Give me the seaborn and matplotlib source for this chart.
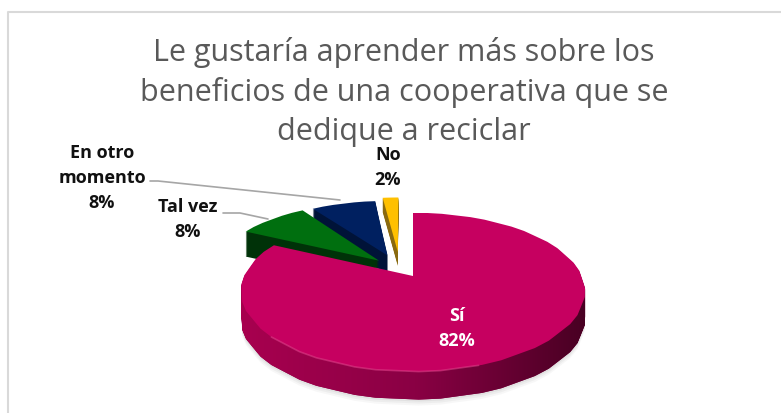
"""
Encuesta: exploded 3D-looking pie, built from matplotlib pie wedges under seaborn theme.
"""

import matplotlib
matplotlib.use('Agg')
import matplotlib.pyplot as plt
import seaborn as sns
import numpy as np
from matplotlib.patches import Polygon, PathPatch
from matplotlib.path import Path

categories = ['Sí', 'Tal vez', 'En otro\nmomento', 'No']
shares = [82, 8, 8, 2]

sns.set_theme(style='white')
plt.rcParams['font.family'] = ['Open Sans', 'DejaVu Sans']

top_colors = sns.color_palette(['#C60060', '#006F0F', '#002060', '#FFC000'])
side_colors = sns.color_palette(['#8A0044', '#003208', '#001338', '#8A6A10'])

# layout of the fake perspective, in pixels
APEX_X, APEX_Y = 413, 277
RX, RY, BOW, NARROW = 168, 79, 16, 0.2
explode = [0, 0.19, 0.28, 0.27]
nudge_x = [0, -10, -9, -12.5]
nudge_y = [0, -6, -1, -4]
depth = [28, 25, 19, 14]


def project(pts, dx=0, dy=0):
    u, v = pts[:, 0], pts[:, 1]
    x = APEX_X + RX * u * (1 - NARROW * v) + dx
    y = APEX_Y - RY * v + BOW * v ** 2 + dy
    return np.column_stack([x, y])


def wedge_outline(wedge):
    poly = wedge.get_patch_transform().transform_path(wedge.get_path()).interpolated(6)
    return poly.vertices


fig = plt.figure(figsize=(7.81, 4.14), dpi=100)
ax = fig.add_axes([0, 0, 1, 1])

wedges, _ = ax.pie(shares, explode=explode, startangle=90, counterclock=False)
outlines = [wedge_outline(w) for w in wedges]
for w in wedges:
    w.remove()
ax.set_aspect('auto')
ax.set_xlim(0, 781)
ax.set_ylim(414, 0)
ax.axis('off')

# chart frame
ax.plot([8, 8, 781], [414, 13, 13], color='#D9D9D9', lw=1.5, solid_capstyle='butt', zorder=1)

# soft shadow under the big slice
si = outlines[0]
for i, alpha in zip([34, 32, 30], [0.06, 0.08, 0.10]):
    ax.add_patch(Polygon(project(si, dy=i), closed=True, fc='#808080', ec='none', alpha=alpha, zorder=2))

# back to front: No, En otro momento, Tal vez, Sí
for idx in [3, 2, 1, 0]:
    base = 10 + (3 - idx) * 3
    pts = outlines[idx]
    for d in np.arange(depth[idx], 0, -1.0):
        ax.add_patch(Polygon(project(pts, dx=nudge_x[idx], dy=nudge_y[idx] + d), closed=True,
                             fc=side_colors[idx], ec='none', zorder=base))
    if idx == 0:
        # side of the big slice gets a left-to-right shade
        layers = [Path(project(pts, dy=d)) for d in np.arange(depth[0], 0, -1.0)]
        clip = PathPatch(Path.make_compound_path(*layers), transform=ax.transData, fc='none', ec='none')
        ax.add_patch(clip)
        ramp = np.linspace(0, 1, 256).reshape(1, -1)
        im = ax.imshow(ramp, extent=[240, 590, 414, 200], aspect='auto', zorder=base + 1,
                       cmap=sns.blend_palette(['#A8004F', '#8A0044', '#470022'], as_cmap=True))
        im.set_clip_path(clip)
        ax.set_xlim(0, 781)
        ax.set_ylim(414, 0)
    ax.add_patch(Polygon(project(pts, dx=nudge_x[idx], dy=nudge_y[idx]), closed=True,
                         fc=top_colors[idx], ec='none', zorder=base + 2))

# lighter rim along the near edge of the big slice
rim = project(si[np.hypot(si[:, 0], si[:, 1]) > 0.98])
rim = rim[rim[:, 1] > 292]
rim = rim[np.argsort(rim[:, 0])]
rim = rim[(rim[:, 0] > 270) & (rim[:, 0] < 480)]
ax.plot(rim[:, 0], rim[:, 1], color='#E0458C', lw=1.2, alpha=0.55, zorder=21)

# title
title_lines = ['Le gustaría aprender más sobre los',
               'beneficios de una cooperativa que se',
               'dedique a reciclar']
for line, y in zip(title_lines, [52, 92, 132]):
    ax.text(404, y, line, ha='center', va='center', fontsize=22, color='#595959', zorder=22)

# slice labels
label_pos = [(457, 329), (188, 220), (102, 178), (388, 168)]
label_col = ['white', '#111111', '#111111', '#111111']
for cat, val, (x, y), c in zip(categories, shares, label_pos, label_col):
    ax.text(x, y, f'{cat}\n{val}%', ha='center', va='center', fontsize=13,
            fontweight='bold', color=c, linespacing=1.5, zorder=23)

# leader lines
ax.plot([150, 158, 340], [182, 182, 201], color='#A6A6A6', lw=1.2, zorder=5)
ax.plot([223, 240, 268], [214, 214, 220], color='#A6A6A6', lw=1.2, zorder=5)

fig.savefig('out.png', dpi=100)
